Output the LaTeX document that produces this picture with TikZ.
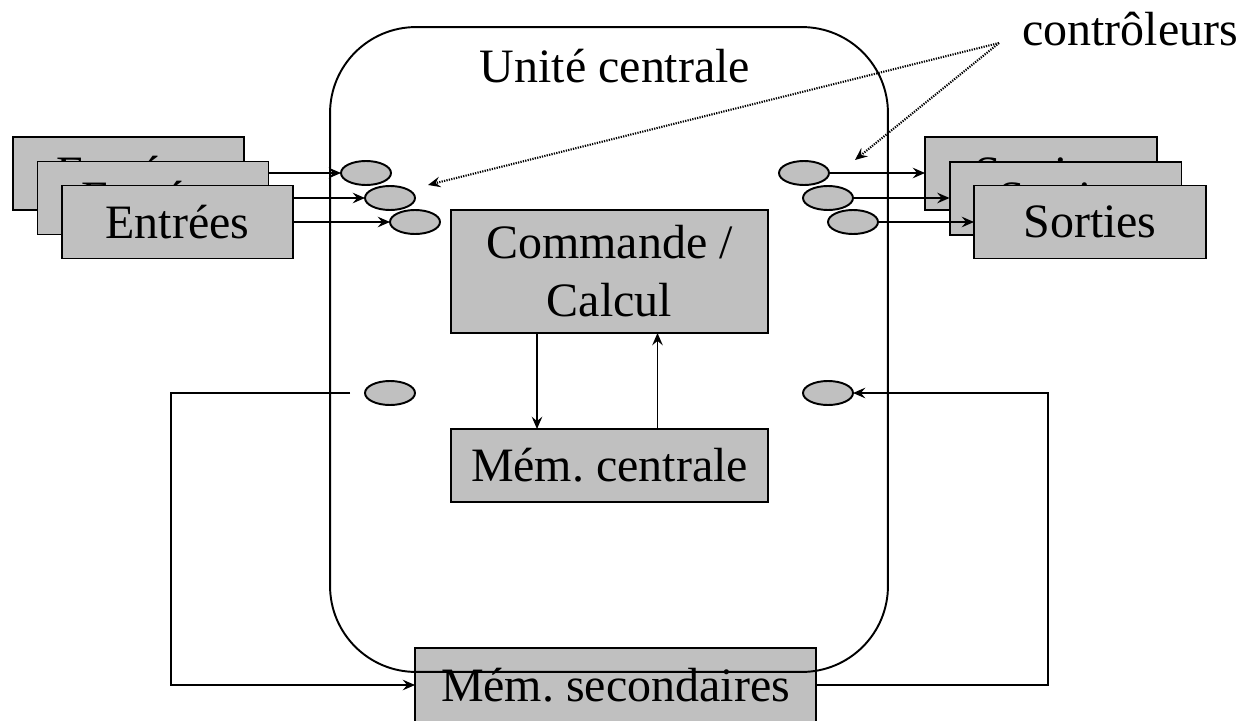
\documentclass[tikz,border=0pt]{standalone}
\usepackage{fontspec}
\setmainfont{Liberation Serif}
\usetikzlibrary{arrows.meta,shapes.geometric,backgrounds,calc}
\definecolor{boxgray}{RGB}{192,192,192}
\frenchspacing
\begin{document}
\begin{tikzpicture}[x=0.02cm,y=-0.02cm,
  txt/.style={font=\fontsize{27.3}{33}\selectfont, inner sep=0pt},
  gbox/.style={draw, fill=boxgray, line width=1.1pt, inner sep=0pt, outer sep=0pt,
    font=\fontsize{27.3}{33}\selectfont, align=center},
  ctrl/.style={draw, ellipse, fill=boxgray, line width=1.1pt, minimum width=1.0cm,
    minimum height=0.48cm, inner sep=0pt, outer sep=0pt},
  arr/.style={line width=1.1pt, -{Stealth[length=7pt,width=6pt,inset=2.5pt]}},
  thinarr/.style={line width=0.9pt, -{Stealth[length=7pt,width=6pt,inset=2.5pt]}},
  dotarr/.style={line width=1.2pt, dash pattern=on 0.7pt off 0.7pt,
    -{Stealth[length=7pt,width=6pt,inset=2.5pt]}}
]
\useasboundingbox (0,0) rectangle (1254,720);

% Entrées
\node[gbox, minimum width=4.62cm, minimum height=1.46cm] (in1) at (128.5,173.5) {Entrées};
\node[gbox, minimum width=4.62cm, minimum height=1.46cm] (in2) at (153,198) {Entrées};
\node[gbox, minimum width=4.62cm, minimum height=1.46cm] (in3) at (177.5,222) {Entrées};

% Sorties
\node[gbox, minimum width=4.64cm, minimum height=1.46cm] (out1) at (1041,173.5) {Sorties};
\node[gbox, minimum width=4.64cm, minimum height=1.46cm] (out2) at (1065.5,198.5) {Sorties};
\node[gbox, minimum width=4.64cm, minimum height=1.46cm] (out3) at (1090,222) {Sorties};

% controllers
\node[ctrl] (el1) at (366,173) {};
\node[ctrl] (el2) at (390,198) {};
\node[ctrl] (el3) at (415,222) {};
\node[ctrl] (el4) at (390,393) {};
\node[ctrl] (er1) at (804,173) {};
\node[ctrl] (er2) at (828,198) {};
\node[ctrl] (er3) at (853,222) {};
\node[ctrl] (er4) at (828,393) {};

% input arrows (behind the boxes)
\begin{scope}[on background layer]
\draw[arr] (in1.east |- el1) -- (el1.west);
\draw[arr] (in2.east |- el2) -- (el2.west);
\draw[arr] (in3.east |- el3) -- (el3.west);
\end{scope}

% output arrows
\draw[arr] (er1.east) -- (out1.west |- er1);
\draw[arr] (er2.east) -- (out2.west |- er2);
\draw[arr] (er3.east) -- (out3.west |- er3);

% central boxes
\node[gbox, minimum width=6.34cm, minimum height=2.46cm] (cmd) at (609.5,271.5) {Commande /\\Calcul};
\node[gbox, minimum width=6.34cm, minimum height=1.46cm] (mem) at (609.5,465.5) {Mém. centrale};
\coordinate (d1) at (537,0);
\coordinate (u1) at (657.5,0);
\draw[thinarr] (cmd.south -| d1) -- (mem.north -| d1);
\draw[thinarr] (mem.north -| u1) -- (cmd.south -| u1);

% secondary memory
\node[gbox, minimum width=8.02cm, minimum height=1.48cm] (ms) at (615.5,685) {Mém. secondaires};

% central unit
\node[draw, line width=1.1pt, rounded corners=1.72cm, minimum width=11.16cm,
  minimum height=12.9cm, inner sep=0pt, outer sep=0pt] (uc) at (609,349.5) {};
\node[txt] (uct) at (615,66) {Unité centrale};

% loops
\coordinate (lc) at (171,0);
\coordinate (rc) at (1048,0);
\draw[arr, shorten <=0.3cm] (el4.west) -- (el4.west -| lc) |- (ms.west);
\draw[arr] (ms.east) -- (ms.east -| rc) |- (er4.east);

% controllers label
\node[txt] (ctl) at (1130,29) {contrôleurs};
\coordinate (cp) at (999,43);
\coordinate (t1) at (428,185);
\coordinate (t2) at (855,160);
\draw[dotarr] (cp) -- (t1);
\draw[dotarr] (cp) -- (t2);
\end{tikzpicture}
\end{document}
